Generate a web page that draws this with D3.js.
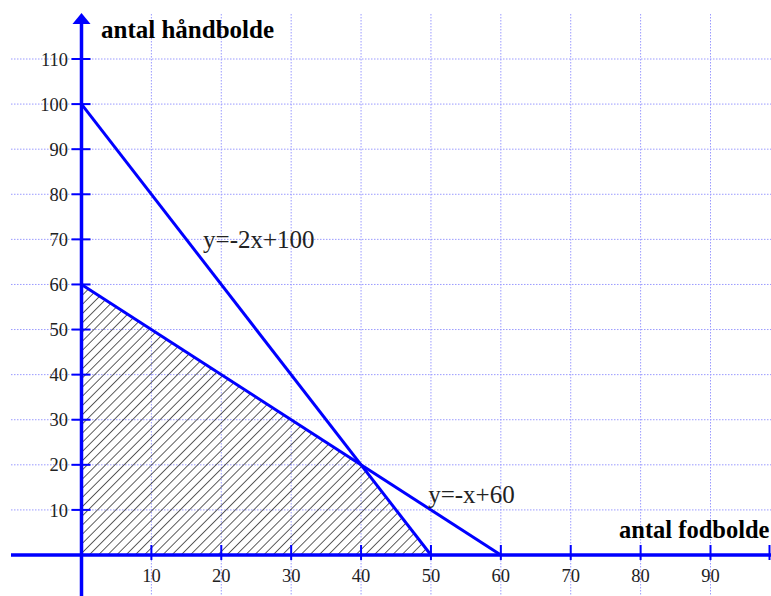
<!DOCTYPE html>
<html>
<head>
<meta charset="utf-8">
<script src="https://cdn.jsdelivr.net/npm/d3@7"></script>
<style>
body { margin: 0; background: #fff; }
svg { display: block; }
text { font-family: "Liberation Serif", "Times New Roman", Times, serif; }
</style>
</head>
<body>
<svg></svg>
<script>
// chart data
var xTicks = [10, 20, 30, 40, 50, 60, 70, 80, 90];
var yTicks = [10, 20, 30, 40, 50, 60, 70, 80, 90, 100, 110];
var lineA = [[0, 100], [50, 0]];   // y=-2x+100
var lineB = [[0, 60], [60, 0]];    // y=-x+60
var region = [[0, 0], [0, 60], [40, 20], [50, 0]];
var labelA = { text: "y=-2x+100", at: [17.4, 68] };
var labelB = { text: "y=-x+60", at: [49.6, 11.5] };

var width = 771;
var height = 596;

var x = d3.scaleLinear().domain([0, 90]).range([81.5, 710.5]);
var y = d3.scaleLinear().domain([0, 110]).range([555, 59]);

var svg = d3.select("svg")
    .attr("width", width)
    .attr("height", height);

var blue = "#0000ff";

// hatch pattern
svg.append("defs")
  .append("pattern")
    .attr("id", "hatch")
    .attr("patternUnits", "userSpaceOnUse")
    .attr("width", 6.5)
    .attr("height", 6.5)
    .attr("patternTransform", "rotate(45)")
  .append("line")
    .attr("x1", 0).attr("y1", 0)
    .attr("x2", 0).attr("y2", 6.5)
    .attr("stroke", "#1a1a1a")
    .attr("stroke-width", 1.4);

// grid
svg.append("g")
  .selectAll("line")
  .data(yTicks)
  .enter()
  .append("line")
    .attr("x1", 11).attr("x2", width)
    .attr("y1", d => y(d)).attr("y2", d => y(d))
    .attr("stroke", "#9a9aff")
    .attr("stroke-width", 1)
    .attr("stroke-dasharray", "1.5,1.5");

svg.append("g")
  .selectAll("line")
  .data(xTicks)
  .enter()
  .append("line")
    .attr("x1", d => x(d)).attr("x2", d => x(d))
    .attr("y1", 14).attr("y2", height)
    .attr("stroke", "#9a9aff")
    .attr("stroke-width", 1)
    .attr("stroke-dasharray", "1.5,1.5");

// feasible region
var line = d3.line().x(d => x(d[0])).y(d => y(d[1]));

svg.append("path")
    .attr("d", line(region) + "Z")
    .attr("fill", "url(#hatch)");

// constraint lines
[lineA, lineB].forEach(function(l) {
  svg.append("path")
      .attr("d", line(l))
      .attr("fill", "none")
      .attr("stroke", blue)
      .attr("stroke-width", 3);
});

// axes
svg.append("line")
    .attr("x1", 11).attr("x2", width)
    .attr("y1", y(0)).attr("y2", y(0))
    .attr("stroke", blue).attr("stroke-width", 3.5);

svg.append("line")
    .attr("x1", x(0)).attr("x2", x(0))
    .attr("y1", height).attr("y2", 22)
    .attr("stroke", blue).attr("stroke-width", 3.5);

svg.append("path")
    .attr("d", `M${x(0) - 9},24 L${x(0)},13 L${x(0) + 9},24 Z`)
    .attr("fill", blue);

// ticks
svg.append("g")
  .selectAll("line")
  .data(xTicks)
  .enter()
  .append("line")
    .attr("x1", d => x(d)).attr("x2", d => x(d))
    .attr("y1", y(0) - 10).attr("y2", y(0) + 5)
    .attr("stroke", blue).attr("stroke-width", 2);

svg.append("line")
    .attr("x1", width - 1.5).attr("x2", width - 1.5)
    .attr("y1", y(0) - 10).attr("y2", y(0) + 5)
    .attr("stroke", blue).attr("stroke-width", 2);

svg.append("g")
  .selectAll("line")
  .data(yTicks)
  .enter()
  .append("line")
    .attr("x1", x(0) - 10).attr("x2", x(0) + 9)
    .attr("y1", d => y(d)).attr("y2", d => y(d))
    .attr("stroke", blue).attr("stroke-width", 2);

// tick labels
svg.append("g")
  .selectAll("text")
  .data(xTicks)
  .enter()
  .append("text")
    .attr("x", d => x(d))
    .attr("y", 582)
    .attr("text-anchor", "middle")
    .style("font-size", "18.5px")
    .style("fill", "#222")
    .text(d => d);

svg.append("g")
  .selectAll("text")
  .data(yTicks)
  .enter()
  .append("text")
    .attr("x", 68)
    .attr("y", d => y(d))
    .attr("dy", "0.36em")
    .attr("text-anchor", "end")
    .style("font-size", "18.5px")
    .style("fill", "#222")
    .text(d => d);

// axis titles
svg.append("text")
    .attr("x", 101)
    .attr("y", 38)
    .style("font-weight", "bold")
    .style("font-size", "25px")
    .text("antal håndbolde");

svg.append("text")
    .attr("x", 619)
    .attr("y", 538)
    .style("font-weight", "bold")
    .style("font-size", "24.5px")
    .text("antal fodbolde");

// line labels
[labelA, labelB].forEach(function(lb) {
  svg.append("text")
      .attr("x", x(lb.at[0]))
      .attr("y", y(lb.at[1]))
      .style("font-size", "25px")
      .style("fill", "#222")
      .text(lb.text);
});
</script>
</body>
</html>
